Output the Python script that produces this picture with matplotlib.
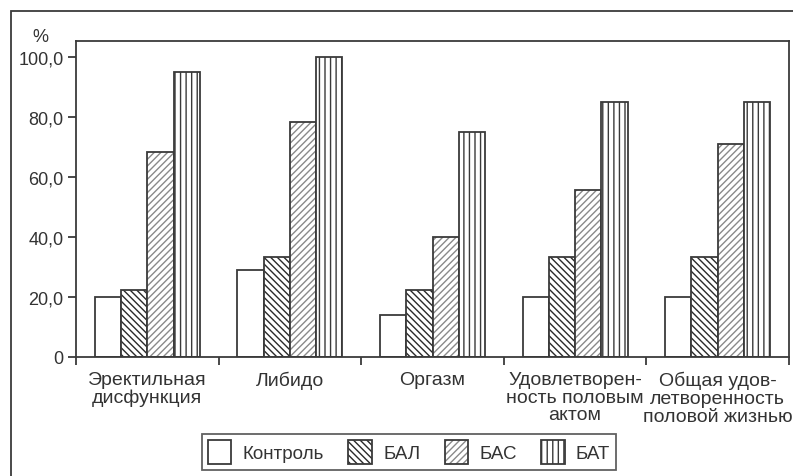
import matplotlib.pyplot as plt
import numpy as np
from matplotlib.patches import Rectangle, Patch
from matplotlib.legend_handler import HandlerPatch

plt.rcParams['font.family'] = ['Liberation Sans', 'DejaVu Sans']
plt.rcParams['hatch.linewidth'] = 1.0

# dane
kategorie = ['Эректильная\nдисфункция', 'Либидо', 'Оргазм',
             'Удовлетворен-\nность половым\nактом',
             'Общая удов-\nлетворенность\nполовой жизнью']
kontrol = [20.0, 29.0, 14.0, 20.0, 20.0]
bal = [22.2, 33.3, 22.2, 33.3, 33.3]
bas = [68.4, 78.4, 40.0, 55.6, 71.0]
bat = [95.0, 100.0, 75.0, 85.0, 85.0]
serie = ['Контроль', 'БАЛ', 'БАС', 'БАТ']
yticks = [0, 20, 40, 60, 80, 100]
ytick_labels = ['0', '20,0', '40,0', '60,0', '80,0', '100,0']

ink = '#3a3a3a'
txt = '#333333'

fig = plt.figure(figsize=(7.93, 4.77), dpi=100)
ax = fig.add_axes([76/793, 1-358/477, (789-76)/793, (358-42)/477])

x = np.arange(len(kategorie))
w = 0.184
hatches = [None, '\\\\\\\\\\', '/////', '|||']
hcolors = [ink, '#2a2a2a', '#8a8a8a', ink]
handles = []
for i, (vals, name) in enumerate(zip([kontrol, bal, bas, bat], serie)):
    pos = x + (i - 1.5) * w
    # kreskowanie
    ax.bar(pos, vals, w, facecolor='white', edgecolor=hcolors[i],
           hatch=hatches[i], linewidth=0)
    # obrys
    ax.bar(pos, vals, w, fill=False, edgecolor=ink, linewidth=1.3)
    handles.append(Patch(facecolor='white', edgecolor=hcolors[i],
                         hatch=hatches[i], linewidth=0))

ax.set_xlim(-0.5, len(kategorie) - 0.5)
ax.set_ylim(0, 105.3)
ax.set_yticks(yticks)
ax.set_yticklabels(ytick_labels, fontsize=13, color=txt)
ax.set_xticks(x)
ax.set_xticklabels(kategorie, fontsize=14, color=txt, linespacing=1.05)
ax.set_xticks(np.arange(len(kategorie) + 1) - 0.5, minor=True)
ax.tick_params(axis='x', which='major', length=0, pad=10)
ax.tick_params(axis='x', which='minor', length=6, width=1.3, color=ink)
ax.tick_params(axis='y', length=6, width=1.3, color=ink, pad=3)
for s in ax.spines.values():
    s.set_color(ink)
    s.set_linewidth(1.3)

fig.text(40/793, 1-37/477, '%', fontsize=13, color=txt, ha='center', va='center')

# zewnętrzna ramka
fig.add_artist(Rectangle((11/793, -0.1), 1.2, 1-12/477+0.1,
                         transform=fig.transFigure, fill=False,
                         edgecolor=ink, linewidth=1.3))


class HandlerObrys(HandlerPatch):
    def create_artists(self, legend, orig_handle, xdescent, ydescent,
                       width, height, fontsize, trans):
        arts = super().create_artists(legend, orig_handle, xdescent, ydescent,
                                      width, height, fontsize, trans)
        box = Rectangle((-xdescent, -ydescent), width, height, fill=False,
                        edgecolor=ink, linewidth=1.3, transform=trans)
        return arts + [box]


leg = fig.legend(handles, serie, loc='center',
                 bbox_to_anchor=(409/793, 1-453/477), ncol=4,
                 fontsize=13.5, frameon=True, fancybox=False, edgecolor=ink,
                 handlelength=1.25, handleheight=1.6, columnspacing=1.3,
                 handletextpad=0.6, borderpad=0.3,
                 handler_map={Patch: HandlerObrys()})
leg.get_frame().set_linewidth(1.3)
for t in leg.get_texts():
    t.set_color(txt)

fig.savefig('out.png', dpi=100)
